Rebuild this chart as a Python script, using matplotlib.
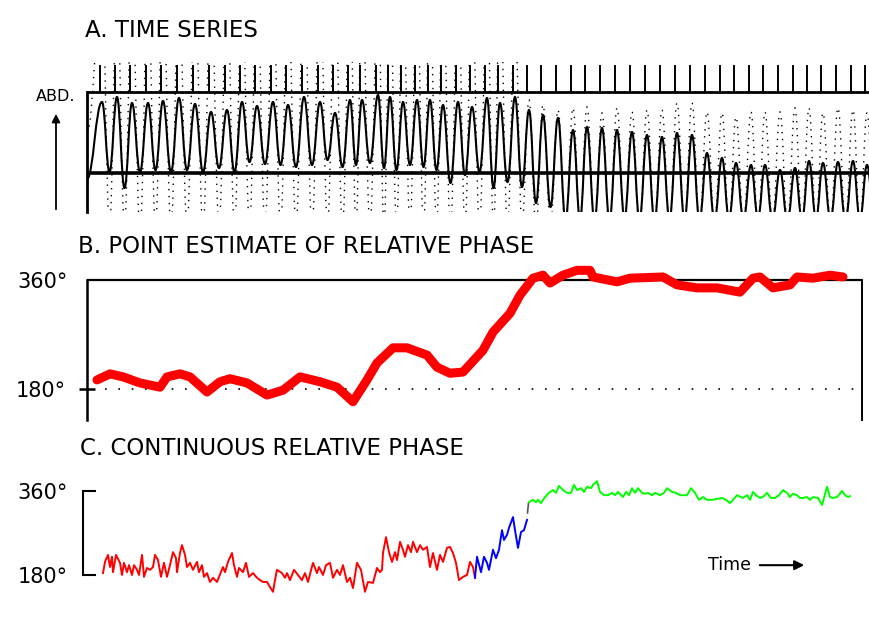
import numpy as np
import matplotlib
matplotlib.use("Agg")
import matplotlib.pyplot as plt
from matplotlib.path import Path
from matplotlib.patches import PathPatch

plt.rcParams['font.family'] = ['Liberation Sans Narrow', 'DejaVu Sans']

# ---- A. time series: one entry per breath cycle (time units = samples)
peak_t = [15, 30, 45, 61, 76, 92, 108, 124, 140, 155, 170, 186, 201, 217, 233, 248, 263, 275,
          291, 303, 316, 330, 343, 356, 371, 385, 400, 413, 428, 442, 456, 471, 486, 500, 515,
          530, 545, 560, 575, 590, 605, 620, 635, 649, 664, 678, 693, 708, 722, 736, 751, 766, 780]
abd_peak = [71, 76, 70, 70, 72, 75, 69, 61, 63, 71, 67, 71, 68, 76, 71, 60, 73, 73, 78, 76, 71,
            73, 73, 68, 71, 66, 75, 70, 76, 63, 58, 55, 43, 46, 45, 43, 41, 38, 36, 40, 38, 20,
            15, 10, 8, 8, 3, 5, 12, 10, 11, 12, 8]
abd_trough = [1, -15, 1, 3, 1, 3, 1, 5, 1, 11, 9, 8, 6, 8, 13, 6, 8, 10, 5, 3, 8, 6, 3, -10,
              -2, 1, -15, -9, -14, -30, -34, -47, -46, -48, -47, -45, -47, -48, -46, -47, -47,
              -48, -46, -47, -45, -47, -48, -47, -46, -47, -48, -47, -47]
rc_peak = [180, 175, 185, 178, 182, 180, 176, 184, 180, 178, 182, 180, 177, 183, 180, 178, 182,
           179, 181, 180, 178, 182, 180, 176, 182, 178, 180, 176, 150, 73, 68, 63, 65, 66, 60,
           65, 61, 63, 63, 70, 70, 61, 60, 56, 61, 61, 61, 65, 65, 60, 65, 63, 60]
rc_trough = [-52, -50, -55, -50, -52, -50, -54, -50, -52, -51, -50, -53, -50, -52, -50, -51,
             -53, -50, -52, -50, -51, -52, -50, -53, -50, -52, -50, -51, -50, -52, -50, -53,
             -50, -51, -52, -50, -53, -50, -52, -50, -51, -50, -52, -50, -53, -50, -51, -52,
             -50, -52, -50, -51, -50]
abd_start = -6

# ---- B. point estimate of relative phase
b_t = [10, 23, 36, 53, 73, 80, 93, 103, 120, 133, 143, 160, 180, 196, 213, 233, 250, 266, 280,
       290, 306, 320, 340, 350, 363, 376, 396, 406, 423, 433, 446, 456, 463, 476, 490, 503, 506,
       530, 543, 576, 590, 610, 630, 653, 666, 673, 686, 703, 710, 726, 743, 756]
b_deg = [195, 205, 200, 190, 183, 200, 205, 200, 175, 192, 197, 190, 170, 178, 200, 192, 183,
         159, 195, 223, 248, 248, 236, 216, 206, 208, 244, 274, 305, 335, 363, 368, 355, 368,
         376, 376, 365, 357, 363, 365, 352, 347, 347, 340, 363, 365, 347, 352, 365, 363, 368, 365]

# ---- C. continuous relative phase
c_red_t = [16, 18, 21, 23, 25, 26, 29, 33, 35, 37, 40, 42, 45, 47, 50, 52, 55, 57, 60, 63,
           66, 68, 71, 74, 77, 80, 83, 86, 89, 90, 93, 95, 98, 100, 103, 106, 110, 112, 115, 117,
           120, 123, 126, 130, 132, 136, 138, 141, 145, 147, 150, 152, 156, 159, 162, 166, 170,
           173, 176, 180, 183, 186, 188, 190, 195, 198, 200, 203, 207, 211, 215, 218, 221, 226,
           230, 232, 236, 239, 243, 246, 250, 253, 256, 260, 263, 266, 270, 274, 278, 281, 286,
           290, 293, 295, 296, 299, 302, 305, 308, 310, 313, 316, 318, 321, 324, 326, 330, 333,
           336, 340, 343, 346, 350, 353, 356, 360, 363, 366, 369, 372, 376, 380, 383, 386, 388]
c_red_deg = [184, 208, 223, 197, 219, 186, 223, 206, 180, 206, 186, 201, 180, 201, 191, 180,
             223, 176, 195, 191, 197, 223, 212, 176, 206, 176, 201, 229, 216, 186, 227, 244, 223,
             197, 206, 191, 208, 186, 201, 176, 184, 165, 174, 165, 176, 197, 186, 208, 227, 201,
             176, 195, 186, 206, 176, 184, 174, 169, 165, 165, 154, 144, 169, 191, 184, 174, 184,
             169, 191, 180, 169, 184, 165, 206, 184, 197, 180, 201, 206, 174, 191, 180, 201, 165,
             174, 152, 206, 191, 144, 165, 163, 195, 186, 191, 227, 261, 229, 208, 229, 212, 251,
             234, 219, 244, 229, 251, 229, 244, 234, 240, 197, 227, 191, 223, 208, 238, 240, 227,
             206, 169, 176, 180, 208, 197, 174]
c_blue_t = [388, 390, 394, 397, 400, 402, 406, 409, 412, 415, 417, 420, 422, 426, 428, 431, 434,
            437, 440]
c_blue_deg = [174, 219, 186, 219, 206, 191, 234, 216, 234, 276, 255, 266, 281, 304, 276, 238,
              272, 276, 298]
c_gap_t = [440.5, 441.5]
c_gap_deg = [313, 334]
c_green_t = [442, 446, 449, 451, 454, 458, 462, 466, 469, 472, 476, 480, 484, 487, 490, 494,
             497, 500, 504, 506, 510, 513, 517, 521, 525, 528, 531, 536, 539, 542, 545, 548, 551,
             555, 558, 561, 565, 568, 573, 577, 580, 585, 589, 593, 600, 604, 608, 612, 616, 620,
             625, 630, 635, 639, 643, 646, 650, 654, 656, 660, 663, 666, 669, 673, 676, 680, 684,
             688, 692, 696, 700, 703, 706, 710, 713, 716, 720, 723, 726, 731, 735, 737, 740, 743,
             746, 750, 755, 758, 761, 763]
c_green_deg = [336, 341, 336, 341, 334, 347, 356, 362, 356, 371, 362, 356, 356, 373, 362, 366,
               358, 369, 366, 373, 381, 358, 351, 351, 356, 351, 358, 347, 358, 351, 366, 356,
               366, 356, 354, 356, 351, 356, 351, 356, 366, 358, 356, 351, 351, 366, 356, 341,
               347, 341, 341, 343, 345, 341, 334, 341, 351, 347, 345, 351, 341, 358, 351, 345,
               347, 356, 345, 345, 351, 362, 356, 347, 354, 351, 345, 345, 347, 341, 347, 345,
               330, 345, 369, 347, 345, 347, 360, 351, 347, 349]


def cycle_path(times, peaks, troughs, start):
    """peaks at given times, troughs halfway between, joined by smooth bezier arcs"""
    ts, vs = [0], [start]
    for i in range(len(times)):
        ts.append(times[i]); vs.append(peaks[i])
        nxt = times[i + 1] if i + 1 < len(times) else times[i] + 15
        ts.append((times[i] + nxt) / 2); vs.append(troughs[i])
    verts, codes = [(ts[0], vs[0])], [Path.MOVETO]
    for t0, v0, t1, v1 in zip(ts[:-1], vs[:-1], ts[1:], vs[1:]):
        d = t1 - t0
        verts += [(t0 + 0.42 * d, v0), (t1 - 0.42 * d, v1), (t1, v1)]
        codes += [Path.CURVE4] * 3
    return Path(verts, codes)


fig = plt.figure(figsize=(8.7, 6.22), dpi=100)
axA = fig.add_axes([0.1, 1 - 212 / 622, 0.9, 150 / 622])
axB = fig.add_axes([0.1, 1 - 420 / 622, 0.8908, 155 / 622])
axC = fig.add_axes([0.1, 0.0354, 0.8908, 0.209])

TITLE = 16.5
TICK = 15

# ---------------- A
axA.set_xlim(0, 783)
axA.set_ylim(-39, 111)
axA.add_patch(PathPatch(cycle_path(peak_t, rc_peak, rc_trough, 40), fill=False,
                        lw=1.0, ls=(0, (1, 4)), ec='k'))
axA.add_patch(PathPatch(cycle_path(peak_t, abd_peak, abd_trough, abd_start), fill=False,
                        lw=1.5, ec='k'))
axA.vlines(np.array(peak_t) - 2, 81, 108, color='k', lw=1.4)
axA.axhline(81, color='k', lw=2.0)
axA.axhline(0, color='k', lw=2.6)
for s in ['top', 'right', 'bottom']:
    axA.spines[s].set_visible(False)
axA.spines['left'].set_linewidth(2.0)
axA.spines['left'].set_bounds(-39, 81)
axA.set_xticks([]); axA.set_yticks([])
axA.text(-2, 136, 'A. TIME SERIES', fontsize=TITLE, va='baseline', ha='left', clip_on=False)
axA.text(-31, 76, 'ABD.', fontsize=11.5, va='center', ha='center', clip_on=False)
axA.annotate('', xy=(-31, 62), xytext=(-31, -39), annotation_clip=False,
             arrowprops=dict(arrowstyle='-|>', lw=1.3, color='k', mutation_scale=12))

# ---------------- B
axB.set_xlim(0, 775)
axB.set_ylim(128.8, 384.8)
axB.hlines(360, 0, 775, color='k', lw=1.6)
axB.hlines(180, 18, 771, color='k', lw=1.2, linestyles=[(0, (1, 7))])
axB.plot(b_t, b_deg, color='#ff0000', lw=6.5, solid_capstyle='round', solid_joinstyle='round')
for s in ['top', 'bottom']:
    axB.spines[s].set_visible(False)
axB.spines['left'].set_bounds(128.8, 360)
axB.spines['right'].set_bounds(128.8, 360)
axB.spines['left'].set_linewidth(1.8)
axB.spines['right'].set_linewidth(1.4)
axB.set_xticks([])
axB.set_yticks([180], labels=['180°'])
axB.set_yticks([360], labels=['360°'], minor=True)
axB.tick_params(axis='y', which='major', direction='inout', length=12, width=1.8, pad=9,
                labelsize=TICK)
axB.tick_params(axis='y', which='minor', length=0, pad=14, labelsize=TICK)
axB.text(-9, 404.6, 'B. POINT ESTIMATE OF RELATIVE PHASE', fontsize=TITLE, va='baseline',
         ha='left', clip_on=False)

# ---------------- C
axC.set_xlim(0, 775)
axC.set_ylim(126.4, 405)
axC.plot(c_red_t, c_red_deg, color='#ff0000', lw=1.4)
axC.plot(c_blue_t, c_blue_deg, color='#0000ff', lw=1.4)
axC.plot(c_gap_t, c_gap_deg, color='#555555', lw=1.2)
axC.plot(c_green_t, c_green_deg, color='#00ff00', lw=1.4)
for s in ['top', 'bottom', 'right']:
    axC.spines[s].set_visible(False)
axC.spines['left'].set_position(('outward', 3))
axC.spines['left'].set_bounds(180, 360)
axC.spines['left'].set_linewidth(1.5)
axC.set_xticks([])
axC.set_yticks([180, 360], labels=['180°', '360°'])
axC.tick_params(axis='y', direction='in', length=9, width=1.5, pad=11, labelsize=TICK)
axC.text(-7, 437, 'C. CONTINUOUS RELATIVE PHASE', fontsize=TITLE, va='baseline', ha='left',
         clip_on=False)
axC.text(621, 201, 'Time', fontsize=12.5, va='center', ha='left')
axC.annotate('', xy=(720, 201), xytext=(670, 201),
             arrowprops=dict(arrowstyle='-|>', lw=1.5, color='k', mutation_scale=14))

fig.savefig('out.png', dpi=100)
